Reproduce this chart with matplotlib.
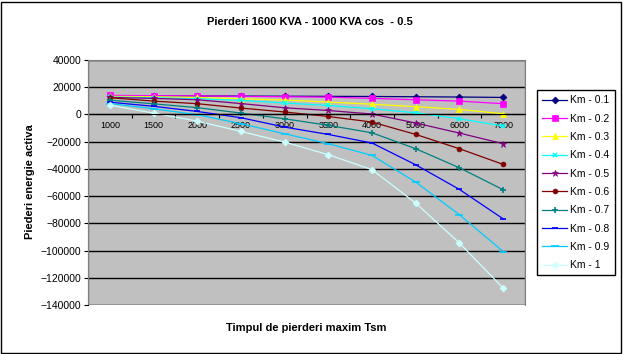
import matplotlib
matplotlib.use("Agg")
import matplotlib.pyplot as plt
from matplotlib.patches import Rectangle

plt.rcParams['font.family'] = ['Liberation Sans', 'DejaVu Sans']

# data
tsm = ['1000', '1500', '2000', '2500', '3000', '3500', '4000', '5000', '6000', '7000']
series_names = ['Km - 0.1', 'Km - 0.2', 'Km - 0.3', 'Km - 0.4', 'Km - 0.5',
                'Km - 0.6', 'Km - 0.7', 'Km - 0.8', 'Km - 0.9', 'Km - 1']
km_01 = [13800, 13700, 13600, 13500, 13400, 13300, 13200, 13000, 12800, 12500]
km_02 = [14000, 13800, 13600, 13300, 13000, 12700, 11800, 10800, 9800, 7900]
km_03 = [13300, 13000, 12500, 11500, 10600, 9100, 7500, 5700, 3700, 500]
km_04 = [12800, 12300, 11500, 10300, 8400, 6600, 4200, 1200, -3200, -8500]
km_05 = [12500, 11800, 10800, 8000, 4900, 2900, 300, -6300, -13700, -21500]
km_06 = [12300, 9800, 7900, 4700, 1800, -1500, -5600, -14700, -25200, -36700]
km_07 = [10500, 7800, 5000, 1000, -3200, -8000, -13500, -25200, -39200, -55300]
km_08 = [9000, 6000, 2200, -2400, -9300, -14700, -21000, -37000, -55100, -76700]
km_09 = [8000, 4200, -200, -6800, -14200, -21500, -30100, -49700, -73700, -100700]
km_10 = [6800, 1000, -4900, -12500, -20300, -29600, -40600, -65100, -94500, -127600]
all_series = [km_01, km_02, km_03, km_04, km_05, km_06, km_07, km_08, km_09, km_10]

colors = ['#000080', '#FF00FF', '#FFFF00', '#00FFFF', '#800080',
          '#800000', '#008080', '#0000FF', '#00CCFF', '#CCFFFF']
markers = ['D', 's', '^', 'x', '*', 'o', '+', '_', '_', 'D']
msizes = [3.5, 4.5, 4.5, 3.5, 4.5, 3.5, 4.5, 4, 6, 3.5]

W, H = 623, 354
fig = plt.figure(figsize=(W / 100, H / 100), dpi=100)
fig.patch.set_facecolor('white')
fig.patches.append(Rectangle((1 / W, 1 / H), 1 - 3 / W, 1 - 3 / H, transform=fig.transFigure,
                             fill=False, edgecolor='black', lw=1))

ax = fig.add_axes([88 / W, 1 - 305 / H, (525 - 88) / W, (305 - 60) / H])
ax.set_facecolor('#C0C0C0')

x = list(range(len(tsm)))
for vals, name, c, m, ms in zip(all_series, series_names, colors, markers, msizes):
    ax.plot(x, vals, color=c, marker=m, markersize=ms, lw=0.9, label=name,
            markeredgewidth=1.2 if m in ('x', '+', '_') else 0.5, markeredgecolor=c)

ax.set_xlim(-0.5, len(tsm) - 0.5)
ax.set_ylim(-140000, 40000)
ax.set_yticks(range(-140000, 40001, 20000))
ax.yaxis.grid(True, color='black', lw=1)
ax.set_axisbelow(True)

# category axis at zero, ticks between categories
ax.spines['bottom'].set_position(('data', 0))
ax.spines['bottom'].set_color('black')
ax.set_xticks([i + 0.5 for i in range(len(tsm) - 1)])
ax.set_xticklabels([])
ax.set_xticks(x, minor=True)
ax.set_xticklabels(tsm, minor=True)
ax.tick_params(axis='x', which='major', direction='out', length=3, color='black')
ax.tick_params(axis='x', which='minor', length=0, labelsize=6.5, pad=5)
ax.tick_params(axis='y', direction='out', length=3, labelsize=7.5, pad=2)

for s in ['top', 'right']:
    ax.spines[s].set_color('#808080')
ax.spines['left'].set_color('black')
ax.add_patch(Rectangle((0, 0), 1, 1, transform=ax.transAxes, fill=False,
                       edgecolor='#808080', lw=1, zorder=5))

fig.text(310 / W, 1 - 22 / H, 'Pierderi 1600 KVA - 1000 KVA cos  - 0.5', ha='center', va='center',
         fontsize=8, fontweight='bold')
fig.text(306 / W, 1 - 328 / H, 'Timpul de pierderi maxim Tsm', ha='center', va='center',
         fontsize=8, fontweight='bold')
fig.text(30 / W, 1 - 182 / H, 'Piederi energie activa', ha='center', va='center',
         rotation=90, fontsize=8, fontweight='bold')

leg = fig.legend(loc='upper left', bbox_to_anchor=(537 / W, 1 - 90 / H), fontsize=7.5,
                 frameon=True, fancybox=False, edgecolor='black', framealpha=1,
                 labelspacing=0.8, handlelength=2.4, handletextpad=0.3, borderpad=0.5,
                 borderaxespad=0)
leg.get_frame().set_linewidth(1)

fig.savefig('out.png', dpi=100)
